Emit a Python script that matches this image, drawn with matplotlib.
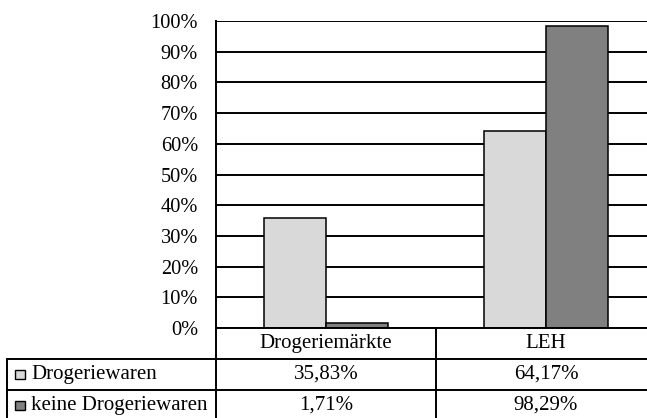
import matplotlib.pyplot as plt
from matplotlib.lines import Line2D
from matplotlib.patches import Rectangle

plt.rcParams["font.family"] = ["Liberation Serif", "DejaVu Serif"]

categories = ["Drogeriemärkte", "LEH"]
series = ["Drogeriewaren", "keine Drogeriewaren"]
values_drog = [35.83, 64.17]
values_keine = [1.71, 98.29]
colors = ["#d9d9d9", "#808080"]
yticks = list(range(0, 101, 10))

W, H = 647, 418
fig = plt.figure(figsize=(W / 100, H / 100), dpi=100)

# main bar axes (extends past the right edge, as in the source)
ax = fig.add_axes([216 / W, 90 / H, 440 / W, 307 / H])
ax.set_xlim(0, 2)
ax.set_ylim(0, 100)
bw = 0.284
for i, vals in enumerate([values_drog, values_keine]):
    xs = [k + 0.5 + (i - 0.5) * bw for k in range(len(categories))]
    ax.bar(xs, vals, width=bw, color=colors[i], edgecolor="black",
           linewidth=1.1, zorder=3)
ax.set_yticks(yticks)
ax.set_yticklabels([f"{t}%" for t in yticks], fontsize=14.7)
ax.set_xticks([])
ax.tick_params(axis="y", length=0, pad=13)
ax.grid(axis="y", color="black", linewidth=1.4, zorder=1)
for s in ["top", "right", "bottom"]:
    ax.spines[s].set_visible(False)
ax.spines["left"].set_linewidth(1.4)

# data table below
tx = fig.add_axes([216 / W, -3 / H, 440 / W, 93 / H])
tx.set_xlim(0, 2)
tx.set_ylim(0, 3)
tx.axis("off")
lw = 1.4
left = -0.95
kw = dict(color="black", linewidth=lw, clip_on=False)
tx.add_line(Line2D([0, 2], [3, 3], **kw))
for y in [2, 1, 0]:
    tx.add_line(Line2D([left, 2], [y, y], **kw))
for x in [0, 1, 2]:
    tx.add_line(Line2D([x, x], [0, 3], **kw))
tx.add_line(Line2D([left, left], [0, 2], **kw))

fs = 15
for k, c in enumerate(categories):
    tx.text(k + 0.5, 2.5, c, ha="center", va="center", fontsize=fs)

rows = [values_drog, values_keine]
for i, name in enumerate(series):
    yc = 1.5 - i
    tx.add_patch(Rectangle((left + 0.036, yc - 0.16), 0.045, 0.32,
                           facecolor=colors[i], edgecolor="black",
                           linewidth=1.0, clip_on=False))
    tx.text(left + 0.11, yc, name, ha="left", va="center", fontsize=fs)
    for k, v in enumerate(rows[i]):
        tx.text(k + 0.5, yc, f"{v:.2f}%".replace(".", ","),
                ha="center", va="center", fontsize=fs)

fig.savefig("out.png", dpi=100)
